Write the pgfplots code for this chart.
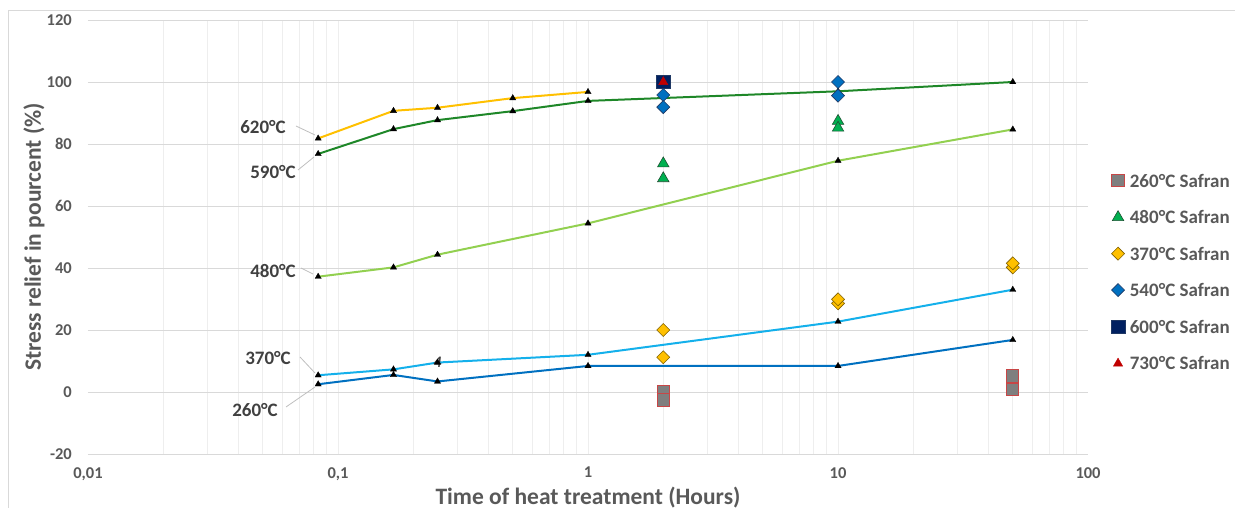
\documentclass[border=0pt]{standalone}
\usepackage{fontspec}
\setmainfont{Carlito}
\usepackage{pgfplots}
\pgfplotsset{compat=1.18}

\definecolor{txtgray}{RGB}{89,89,89}
\definecolor{lblgray}{RGB}{64,64,64}
\definecolor{gridmaj}{RGB}{217,217,217}
\definecolor{gridmin}{RGB}{238,238,238}
\definecolor{leader}{RGB}{191,191,191}
\definecolor{c620}{RGB}{255,192,0}
\definecolor{c590}{RGB}{30,135,40}
\definecolor{c480}{RGB}{146,208,80}
\definecolor{c370}{RGB}{20,176,235}
\definecolor{c260}{RGB}{0,112,192}
\definecolor{s260f}{RGB}{127,127,127}
\definecolor{s260d}{RGB}{200,70,70}
\definecolor{s480f}{RGB}{0,176,80}
\definecolor{s480d}{RGB}{30,80,50}
\definecolor{s370f}{RGB}{255,192,0}
\definecolor{s370d}{RGB}{127,96,0}
\definecolor{s540f}{RGB}{0,112,192}
\definecolor{s540d}{RGB}{31,56,100}
\definecolor{s600f}{RGB}{0,32,96}
\definecolor{s730f}{RGB}{192,0,0}

\begin{document}
\begin{tikzpicture}[x=1pt,y=1pt]
\path[use as bounding box] (-88,-54) rectangle (1147,454);
\draw[gridmaj, line width=0.8pt] (-80,-80) rectangle (1170,444);
\begin{axis}[
  at={(0,0)}, anchor=south west, scale only axis,
  width=1000pt, height=434pt,
  xmode=log, xmin=0.01, xmax=100, ymin=-20, ymax=120,
  xtick={0.01,0.1,1,10,100}, xticklabels={{0,01},{0,1},1,10,100},
  minor xtick={0.02,0.03,0.04,0.05,0.06,0.07,0.08,0.09,0.1,
    0.2,0.3,0.4,0.5,0.6,0.7,0.8,0.9,1,2,3,4,5,6,7,8,9,10,
    20,30,40,50,60,70,80,90},
  ytick={-20,0,20,40,60,80,100,120},
  yticklabels={-20,0,20,40,60,80,100,120},
  axis line style={draw=none},
  major tick length=0pt, minor tick length=0pt,
  xminorgrids, ymajorgrids,
  major grid style={gridmaj, line width=0.8pt},
  minor grid style={gridmin, line width=0.8pt},
  tick label style={font=\fontsize{16.5}{18}\selectfont\bfseries, text=txtgray, inner sep=0pt},
  yticklabel style={anchor=east, xshift=-16pt},
  xticklabel style={anchor=north, yshift=-13pt},
  xlabel={Time of heat treatment (Hours)},
  ylabel={Stress relief in pourcent (\%)},
  every axis x label/.style={at={(axis description cs:0.5,-0.116)}, anchor=base,
    font=\fontsize{23.5}{25}\selectfont\bfseries, text=txtgray},
  every axis y label/.style={at={(axis description cs:-0.047,0.5)}, anchor=base, rotate=90,
    font=\fontsize{23.5}{25}\selectfont\bfseries, text=txtgray},
  legend style={at={(1.023,0.645)}, anchor=north west, draw=none, fill=none,
    inner sep=0pt, row sep=23.4pt,
    nodes={inner sep=0pt, text height=13pt, text depth=0pt},
    font=\fontsize{19}{20}\selectfont\bfseries, text=txtgray,
    /tikz/every odd column/.append style={column sep=5pt}},
  legend cell align=left,
  legend image code/.code={\draw[mark repeat=2,mark phase=2,#1] plot coordinates {(-6pt,0pt) (0pt,0pt) (6pt,0pt)};},
]
% fitted curves
\addplot[c620, line width=2pt, forget plot, mark=triangle*, mark size=3.6pt,
  mark options={black, fill=black, solid, line width=0.3pt}]
  coordinates {(0.0833,81.8) (0.1667,90.7) (0.25,91.7) (0.5,94.8) (1,96.8)};
\addplot[c590, line width=2pt, forget plot, mark=triangle*, mark size=3.6pt,
  mark options={black, fill=black, solid, line width=0.3pt}]
  coordinates {(0.0833,76.8) (0.1667,84.8) (0.25,87.7) (0.5,90.6) (1,93.9) (10,97) (50,100)};
\addplot[c480, line width=2pt, forget plot, mark=triangle*, mark size=3.6pt,
  mark options={black, fill=black, solid, line width=0.3pt}]
  coordinates {(0.0833,37.2) (0.1667,40.2) (0.25,44.3) (1,54.4) (10,74.6) (50,84.7)};
\addplot[c370, line width=2pt, forget plot, mark=triangle*, mark size=3.6pt,
  mark options={black, fill=black, solid, line width=0.3pt}]
  coordinates {(0.0833,5.4) (0.1667,7.3) (0.25,9.5) (1,12) (10,22.7) (50,33)};
\addplot[c260, line width=2pt, forget plot, mark=triangle*, mark size=3.6pt,
  mark options={black, fill=black, solid, line width=0.3pt}]
  coordinates {(0.0833,2.5) (0.1667,5.5) (0.25,3.4) (1,8.4) (10,8.4) (50,16.8)};
% Safran measurements
\addplot[only marks, mark=square*, mark size=6.2pt,
  mark options={fill=s260f, draw=s260d, line width=1pt}]
  coordinates {(2,0) (2,-2.6) (50,5.2) (50,0.8)};
\addlegendentry{260°C Safran}
\addplot[only marks, mark=triangle*, mark size=6.6pt,
  mark options={fill=s480f, draw=s480d, line width=0.6pt}]
  coordinates {(2,73.7) (2,68.9) (10,87.4) (10,85.2)};
\addlegendentry{480°C Safran}
\addplot[only marks, mark=square*, mark size=4.6pt,
  mark options={rotate=45, fill=s370f, draw=s370d, line width=0.6pt}]
  coordinates {(2,20) (2,11.2) (10,28.6) (10,29.9) (50,40.2) (50,41.5)};
\addlegendentry{370°C Safran}
\addplot[only marks, mark=square*, mark size=4.6pt,
  mark options={rotate=45, fill=s540f, draw=s540d, line width=0.6pt}]
  coordinates {(2,95.8) (2,91.9) (10,100) (10,95.6)};
\addlegendentry{540°C Safran}
\addplot[only marks, mark=square*, mark size=6.8pt,
  mark options={fill=s600f, draw=s540d, line width=0.6pt}]
  coordinates {(2,100)};
\addlegendentry{600°C Safran}
\addplot[only marks, mark=triangle*, mark size=5.4pt,
  mark options={fill=s730f, draw=s730f, line width=0.4pt}]
  coordinates {(2,100)};
\addlegendentry{730°C Safran}
\node[font=\fontsize{16}{16}\selectfont\bfseries\itshape, text=lblgray] at (axis cs:0.25,9.6) {4};
\end{axis}
% curve labels with leader lines
\begin{scope}[font=\fontsize{19}{20}\selectfont\bfseries, text=lblgray]
\node at (175,327) {620°C};
\node at (185,282) {590°C};
\node at (185,183) {480°C};
\node at (180,96) {370°C};
\node at (167,44) {260°C};
\end{scope}
\begin{scope}[leader, line width=0.8pt]
\draw (208,328) -- (227,319);
\draw (210,284) -- (226,297);
\draw (213,186) -- (225,180);
\draw (212,97) -- (227,81);
\draw (198,47) -- (227,67);
\end{scope}
\end{tikzpicture}
\end{document}
